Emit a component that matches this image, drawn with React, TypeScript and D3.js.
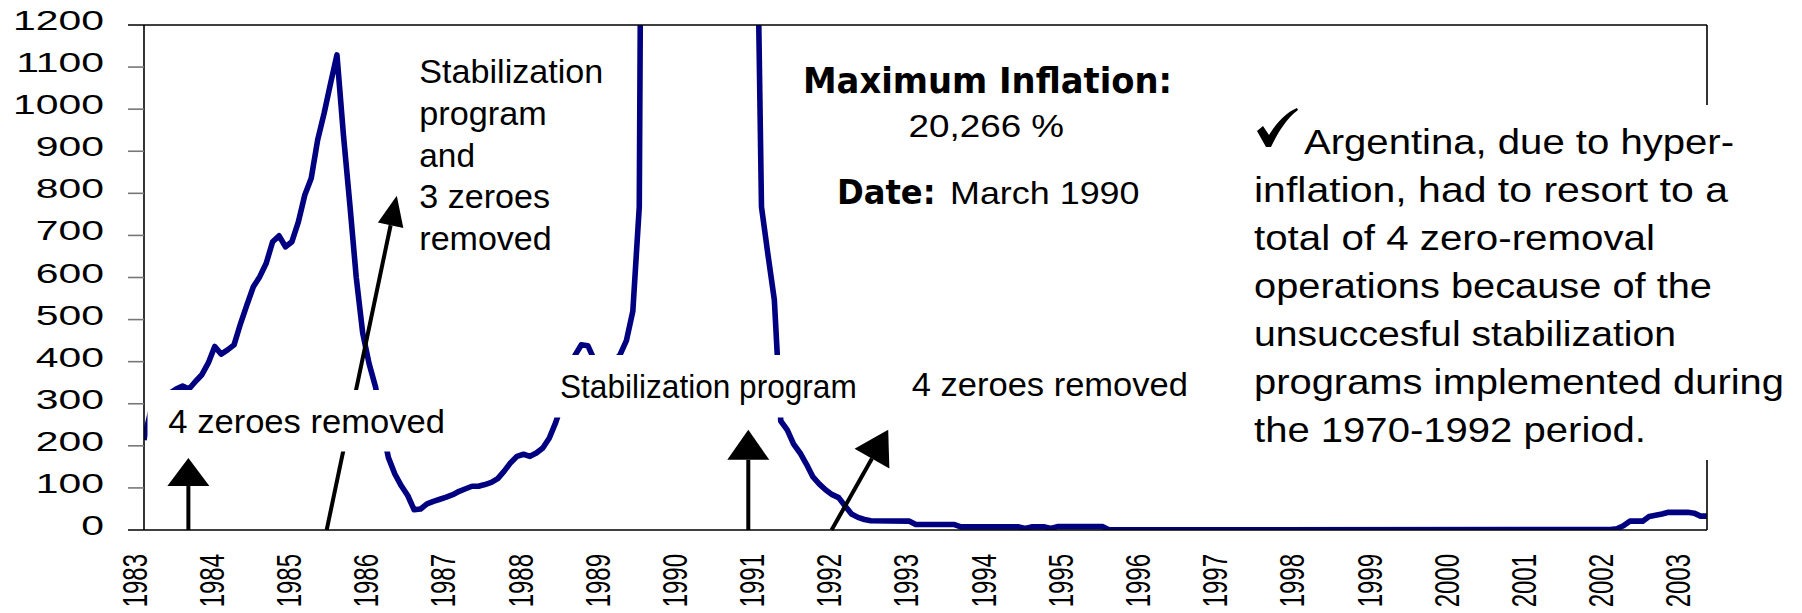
import { useEffect, useRef } from 'react';
import * as d3 from 'd3';

// Argentina, 12-month CPI inflation (%)
const months = [
	'1983-01', '1983-02', '1983-03', '1983-04', '1983-05', '1983-06', '1983-07', '1983-08', '1983-09', '1983-10', '1983-11', '1983-12',
	'1984-01', '1984-02', '1984-03', '1984-04', '1984-05', '1984-06', '1984-07', '1984-08', '1984-09', '1984-10', '1984-11', '1984-12',
	'1985-01', '1985-02', '1985-03', '1985-04', '1985-05', '1985-06', '1985-07', '1985-08', '1985-09', '1985-10', '1985-11', '1985-12',
	'1986-01', '1986-02', '1986-03', '1986-04', '1986-05', '1986-06', '1986-07', '1986-08', '1986-09', '1986-10', '1986-11', '1986-12',
	'1987-01', '1987-02', '1987-03', '1987-04', '1987-05', '1987-06', '1987-07', '1987-08', '1987-09', '1987-10', '1987-11', '1987-12',
	'1988-01', '1988-02', '1988-03', '1988-04', '1988-05', '1988-06', '1988-07', '1988-08', '1988-09', '1988-10', '1988-11', '1988-12',
	'1989-01', '1989-02', '1989-03', '1989-04', '1989-05', '1989-06', '1989-07',
	'1990-03', '1990-12',
	'1991-01', '1991-02', '1991-03', '1991-04', '1991-05', '1991-06', '1991-07', '1991-08', '1991-09', '1991-10', '1991-11', '1991-12',
	'1992-01', '1992-02', '1992-03', '1992-04', '1992-05', '1992-06', '1992-12',
	'1993-01', '1993-07', '1993-08',
	'1994-05', '1994-06', '1994-07', '1994-09', '1994-10', '1994-11',
	'1995-06', '1995-07',
	'2002-01', '2002-02', '2002-03', '2002-04', '2002-05', '2002-06', '2002-07', '2002-08', '2002-09', '2002-10',
	'2003-01', '2003-02', '2003-03', '2003-04',
];
const inflation = [
	214, 280, 300, 315, 325, 335, 342, 335, 353, 369, 397, 436,
	418, 428, 440, 490, 535, 578, 602, 634, 685, 699, 673, 685,
	732, 796, 836, 927, 990, 1061, 1129, 940, 774, 600, 468, 395,
	340, 245, 172, 133, 105, 82, 48, 50, 62, 68, 73, 78,
	84, 92, 98, 104, 104, 108, 113, 122, 140, 160, 175, 180,
	175, 183, 195, 218, 255, 300, 355, 415, 440, 438, 405, 390,
	390, 400, 416, 450, 520, 768, 3600,
	20266, 1800,
	768, 655, 547, 259, 238, 204, 183, 156, 126, 109, 95, 84,
	77, 57, 38, 30, 25, 22, 21,
	13, 13, 7.5,
	7.5, 3.5, 7.5, 7.5, 3.5, 8,
	8, 0.5,
	1, 3, 10, 21, 21, 21, 32, 35, 38, 42,
	42, 40, 33, 33,
];

const yTicks = [0, 100, 200, 300, 400, 500, 600, 700, 800, 900, 1000, 1100, 1200];
const yearLabels = [
	'1983', '1984', '1985', '1986', '1987', '1988', '1989', '1990', '1991', '1992', '1993',
	'1994', '1995', '1996', '1997', '1998', '1999', '2000', '2001', '2002', '2003',
];

// arrows in (month index, value)
const arrowBase = [[6.9, 0], [28.4, 0], [93.95, 0], [106.9, 0]];
const arrowTip = [[6.9, 171], [39.3, 794], [93.95, 238], [115.7, 238]];

const noteLeft = '4 zeroes removed';
const noteAustral = ['Stabilization', 'program', 'and', '3 zeroes', 'removed'];
const noteMid = 'Stabilization program';
const noteRight = '4 zeroes removed';
const maxTitle = 'Maximum Inflation:';
const maxValue = '20,266 %';
const dateTitle = 'Date:';
const dateValue = 'March 1990';
const summary = [
	'Argentina, due to hyper-',
	'inflation, had to resort to a',
	'total of 4 zero-removal',
	'operations because of the',
	'unsuccesful stabilization',
	'programs implemented during',
	'the 1970-1992 period.',
];

const monthIndex = (s) => {
	const [yy, mm] = s.split('-').map(Number);
	return (yy - 1983) * 12 + mm - 1;
};

const SANS = '"Liberation Sans", Arial, Helvetica, sans-serif';

const App = () => {
	const ref = useRef(null);

	useEffect(() => {
		const W = 1802,
			H = 613;
		const left = 144,
			right = 1707,
			top = 25,
			bottom = 530;

		const svg = d3.select(ref.current).attr('width', W).attr('height', H);
		svg.selectAll('*').remove();

		svg.append('rect').attr('width', W).attr('height', H).attr('fill', '#fff');

		const x = d3.scaleLinear().domain([0, 243]).range([left, right]);
		const y = d3.scaleLinear().domain([0, 1200]).range([bottom, top]);

		const data = months.map((m, i) => ({ m: monthIndex(m), v: inflation[i] }));

		svg
			.append('clipPath')
			.attr('id', 'plot-clip')
			.append('rect')
			.attr('x', left)
			.attr('y', top)
			.attr('width', right - left)
			.attr('height', bottom - top);

		// series
		svg
			.append('path')
			.datum(data)
			.attr('clip-path', 'url(#plot-clip)')
			.attr('fill', 'none')
			.attr('stroke', '#000080')
			.attr('stroke-width', 5.6)
			.attr('stroke-linejoin', 'round')
			.attr(
				'd',
				d3
					.line()
					.x((d) => x(d.m))
					.y((d) => y(d.v))
			);

		// frame + ticks
		const frame = svg.append('g').attr('stroke', '#000').attr('stroke-width', 1.6);
		frame.append('line').attr('x1', left - 16).attr('x2', right).attr('y1', top).attr('y2', top);
		frame.append('line').attr('x1', left - 16).attr('x2', right).attr('y1', bottom).attr('y2', bottom);
		frame.append('line').attr('x1', left).attr('x2', left).attr('y1', top).attr('y2', bottom);
		frame.append('line').attr('x1', right).attr('x2', right).attr('y1', top).attr('y2', bottom);
		svg
			.append('g')
			.selectAll('line')
			.data(yTicks.slice(1, -1))
			.join('line')
			.attr('x1', left - 16)
			.attr('x2', left)
			.attr('y1', (d) => y(d))
			.attr('y2', (d) => y(d))
			.attr('stroke', '#777')
			.attr('stroke-width', 1.6);

		svg
			.append('g')
			.selectAll('text')
			.data(yTicks)
			.join('text')
			.attr('transform', (d) => `translate(104,${y(d) + 5}) scale(1.46,1)`)
			.attr('text-anchor', 'end')
			.attr('font-family', SANS)
			.attr('font-size', 28)
			.text((d) => d);

		svg
			.append('g')
			.selectAll('text')
			.data(yearLabels)
			.join('text')
			.attr('transform', (d, i) => `translate(${x(i * 12) + 2.6},554) scale(1.47,1) rotate(-90)`)
			.attr('text-anchor', 'end')
			.attr('font-family', SANS)
			.attr('font-size', 24)
			.text((d) => d);

		// arrows
		const heads = [
			[28, 42],
			[30, 26],
			[30, 42],
			[33, 40],
		];
		arrowBase.forEach((b, i) => {
			const x0 = x(b[0]),
				y0 = y(b[1]);
			const x1 = x(arrowTip[i][0]),
				y1 = y(arrowTip[i][1]);
			const len = Math.hypot(x1 - x0, y1 - y0);
			const ux = (x1 - x0) / len,
				uy = (y1 - y0) / len;
			const [hl, hw] = heads[i];
			const hx = x1 - ux * hl,
				hy = y1 - uy * hl;
			svg
				.append('line')
				.attr('x1', x0)
				.attr('y1', y0)
				.attr('x2', hx)
				.attr('y2', hy)
				.attr('stroke', '#000')
				.attr('stroke-width', 4);
			svg
				.append('polygon')
				.attr(
					'points',
					[
						[x1, y1],
						[hx - uy * hw * 0.5, hy + ux * hw * 0.5],
						[hx + uy * hw * 0.5, hy - ux * hw * 0.5],
					]
						.map((p) => p.join(','))
						.join(' ')
				)
				.attr('fill', '#000');
		});

		// white text boxes
		const boxes = [
			[147.5, 390, 308, 61.5],
			[548, 355, 318, 62.5],
			[900, 360, 300, 62],
			[1245, 105, 552, 355],
		];
		svg
			.append('g')
			.selectAll('rect')
			.data(boxes)
			.join('rect')
			.attr('x', (d) => d[0])
			.attr('y', (d) => d[1])
			.attr('width', (d) => d[2])
			.attr('height', (d) => d[3])
			.attr('fill', '#fff');

		const label = (txt, px, py, size, len, opts = {}) =>
			svg
				.append('text')
				.attr('x', px)
				.attr('y', py)
				.attr('font-family', opts.family || SANS)
				.attr('font-weight', opts.bold ? 'bold' : 'normal')
				.attr('font-size', size)
				.attr('textLength', len)
				.attr('lengthAdjust', 'spacingAndGlyphs')
				.text(txt);

		label(noteLeft, 168.3, 433, 33, 276.7);
		label(noteMid, 560, 398, 33, 296.7);
		label(noteRight, 911.7, 395.7, 33, 276.3);

		const australLen = [184, 127.4, 55.7, 130.7, 132.4];
		noteAustral.forEach((t, i) => label(t, 419.3, 83.3 + i * 41.7, 34, australLen[i]));

		const BOLD = '"DejaVu Sans", Verdana, sans-serif';
		label(maxTitle, 803, 92.7, 35, 369, { bold: true, family: BOLD });
		label(maxValue, 908.6, 136.7, 32, 155.5);
		label(dateTitle, 837, 204, 33, 98.6, { bold: true, family: BOLD });
		label(dateValue, 950, 204, 32, 189.5);

		const sumLen = [430, 474, 401, 458, 422, 530, 392];
		summary.forEach((t, i) => label(t, i === 0 ? 1304 : 1254, 154 + i * 48, 35, sumLen[i]));

		// check mark in front of the summary
		const cx = 1257,
			cy = 108;
		svg
			.append('path')
			.attr(
				'd',
				`M${cx},${cy + 23} L${cx + 6},${cy + 18} L${cx + 12},${cy + 27} C${cx + 20},${cy + 14} ${cx + 30},${cy + 4} ${cx + 40},${cy} L${cx + 41},${cy + 2} C${cx + 30},${cy + 10} ${cx + 21},${cy + 24} ${cx + 14},${cy + 39} L${cx + 9},${cy + 39} Z`
			)
			.attr('fill', '#000');
	}, []);

	return <svg ref={ref} style={{ position: 'absolute', left: 0, top: 0, display: 'block' }} />;
};

export default App;
